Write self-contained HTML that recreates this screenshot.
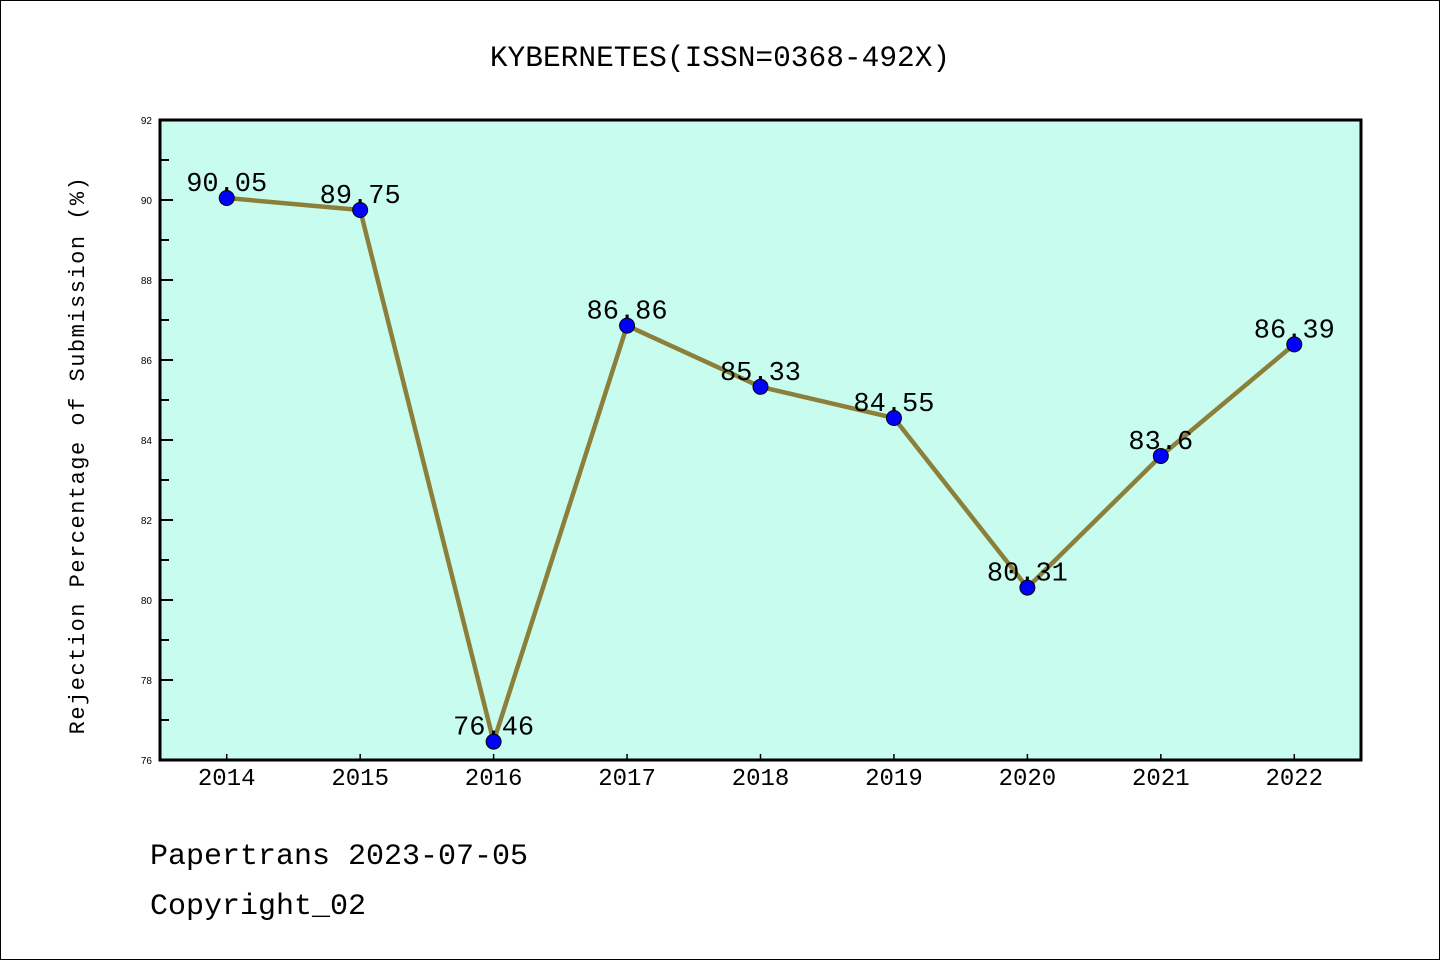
<!DOCTYPE html>
<html><head><meta charset="utf-8"><style>
body{margin:0;background:#fff}
svg{display:block;font-family:"Liberation Mono","WenQuanYi Zen Hei",monospace}
</style></head><body>
<svg width="1440" height="960" viewBox="0 0 1440 960">
<rect x="0.5" y="0.5" width="1439" height="959" fill="#fff" stroke="#000"/>
<text x="720" y="66" text-anchor="middle" font-size="29.5">KYBERNETES(ISSN=0368-492X)</text>
<rect x="160" y="120" width="1201" height="640" fill="#c8fcee"/>
<g id="axes"></g>
<g id="marks"></g>
<rect x="160" y="120" width="1201" height="640" fill="none" stroke="#000" stroke-width="3"/>
<text transform="translate(84,455) rotate(-90)" text-anchor="middle" font-size="22" letter-spacing="1.5">Rejection Percentage of Submission (%)</text>
<text x="150" y="864" font-size="30">Papertrans 2023-07-05</text>
<text x="150" y="914" font-size="30">Copyright_02</text>
</svg>
<script>
const categories=["2014","2015","2016","2017","2018","2019","2020","2021","2022"];
const values=[90.05,89.75,76.46,86.86,85.33,84.55,80.31,83.6,86.39];
const labels=["90.05","89.75","76.46","86.86","85.33","84.55","80.31","83.6","86.39"];
const yTicks=[76,78,80,82,84,86,88,90,92];
const NS="http://www.w3.org/2000/svg";
const X0=160,X1=1361,Y0=760,Y1=120,YMIN=76,YMAX=92;
const band=(X1-X0)/categories.length;
function xs(i){return X0+band*(i+0.5);}
function ys(v){return Y0-(v-YMIN)/(YMAX-YMIN)*(Y0-Y1);}
function mk(tag,attrs,parent){const e=document.createElementNS(NS,tag);for(const k in attrs)e.setAttribute(k,attrs[k]);parent.appendChild(e);return e;}
const axes=document.getElementById('axes'),marks=document.getElementById('marks');
yTicks.forEach((t,i)=>{
 const y=ys(t);
 const l=mk('line',{x1:X0,x2:X0+13,y1:y,y2:y,stroke:'#000','stroke-width':2},axes);
 
 
 const tx=mk('text',{x:152,y:y+4,'text-anchor':'end','font-size':10,'font-family':'Liberation Sans, sans-serif'},axes);
 tx.textContent=t;
 
 
 if(i<yTicks.length-1){
  const ym=ys(t+1);
  const m=mk('line',{x1:X0,x2:X0+9,y1:ym,y2:ym,stroke:'#000','stroke-width':2},axes);
  
  
 }
});
categories.forEach((c,i)=>{
 const x=xs(i);
 const l=mk('line',{x1:x,x2:x,y1:Y0,y2:Y0-6,stroke:'#000','stroke-width':1.5},axes);
 
 
 const t=mk('text',{x:x,y:785,'text-anchor':'middle','font-size':24},axes);
 t.textContent=c;
 
 
});
const pts=values.map((v,i)=>xs(i)+','+ys(v)).join(' ');
const pl=mk('polyline',{points:pts,fill:'none',stroke:'#8b7f3a','stroke-width':4.5,'stroke-linejoin':'round'},marks);


values.forEach((v,i)=>{
 const c=mk('circle',{cx:xs(i),cy:ys(v),r:7.5,fill:'#0000ff',stroke:'#000','stroke-width':1},marks);
 
 
 const t=mk('text',{x:xs(i),y:ys(v)-7,'text-anchor':'middle','font-size':27},marks);
 t.textContent=labels[i];
 
 
});
</script>
</body></html>
